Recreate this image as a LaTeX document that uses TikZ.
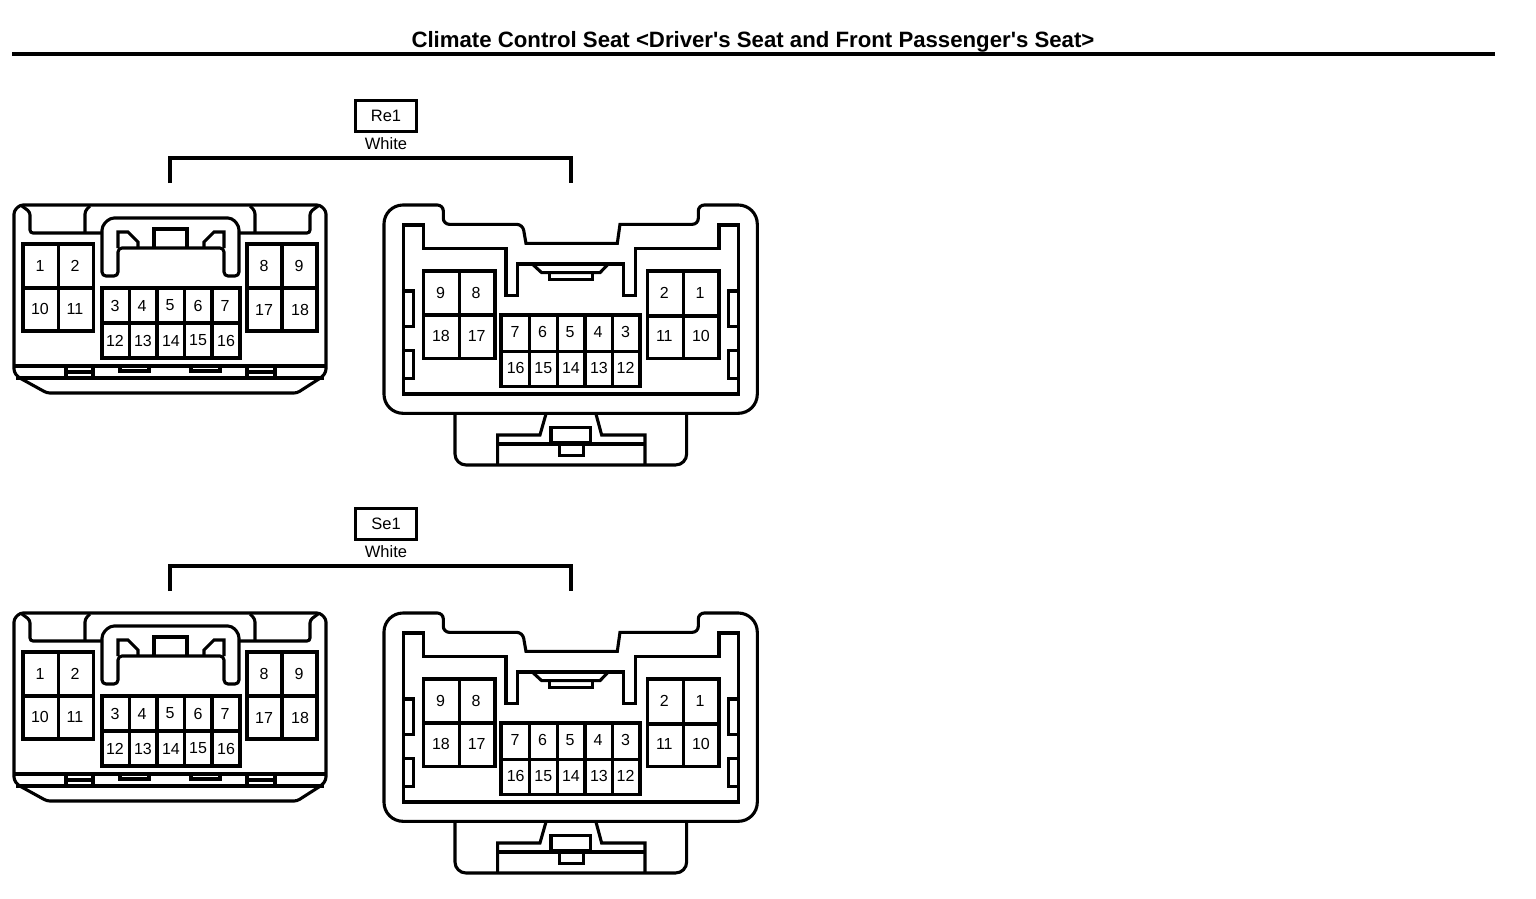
\documentclass[tikz,border=0pt]{standalone}
\usepackage{fontspec}
\newfontfamily\plainsans{Liberation Sans}
\tikzset{
  ln/.style={line width=3.1pt,line join=miter,line cap=butt},
  num/.style={font=\plainsans\fontsize{16}{17}\selectfont,inner sep=0pt,text=black},
  hdr/.style={font=\plainsans\fontsize{16.5}{17}\selectfont,inner sep=0pt},
}
\newcommand{\connectorpair}[3]{% prefix, tag, y offset
\begin{scope}[yshift=#3]
\node[draw,line width=3pt,minimum width=61pt,minimum height=31pt,inner sep=0pt,hdr] (#1tag) at (386,115.5) {#2};
\node[hdr] (#1col) at (386,143.5) {White};
\coordinate (#1bl) at (170,183);
\coordinate (#1br) at (571,183);
\draw[ln,line width=3.2pt] (#1bl) -- (170,158) -- (571,158) -- (#1br);
% LEFT CONNECTOR
\begin{scope}
\draw[ln,rounded corners=3pt] (20,205) -- (320,205) -- (326,211) -- (326,372) -- (322,377) -- (297,393) -- (47,393) -- (18,377) -- (14,372) -- (14,211) -- cycle;
\draw[ln] (14,366) -- (326,366);
\draw[ln] (16,378) -- (324,378);
\draw[ln,rounded corners=3pt] (22,206) -- (30,212) -- (30,233) -- (102,233);
\draw[ln,rounded corners=3pt] (85,233) -- (85,211) -- (90,206);
\draw[ln,rounded corners=3pt] (318,206) -- (310,212) -- (310,233) -- (239,233);
\draw[ln,rounded corners=3pt] (255,233) -- (255,211) -- (250,206);
\draw[ln,fill=white,rounded corners=4pt] (102,276) -- (102,226) -- (110,218) -- (232,218) -- (239,226) -- (239,276) -- (224,276) -- (224,248) -- (118,248) -- (118,276) -- cycle;
\draw[ln] (118,248) -- (118,232) -- (128,232) -- (138,242) -- (138,248);
\draw[ln] (224,248) -- (224,232) -- (214,232) -- (204,242) -- (204,248);
\draw[ln] (154,248) -- (154,229) -- (187,229) -- (187,248);
\draw[ln] (66,366) -- (66,378) (93,366) -- (93,378) (66,372) -- (93,372);
\draw[ln] (247,366) -- (247,378) (275,366) -- (275,378) (247,372) -- (275,372);
\draw[ln] (120,366) -- (120,371) -- (149,371) -- (149,366);
\draw[ln] (191,366) -- (191,371) -- (220,371) -- (220,366);
\draw[ln] (23,244) rectangle (93.5,331) (58.5,244) -- (58.5,331) (23,288) -- (93.5,288);
\draw[ln] (247,244) rectangle (317,331) (282,244) -- (282,331) (247,288) -- (317,288);
\draw[ln] (102,288) rectangle (240,358) (102,323) -- (240,323);
\foreach \xa in {129.5,157,184.5,212} \draw[ln] (\xa,288) -- (\xa,358);
\foreach \tx/\ty/\lab/\nm in {40/266/1/a,75/266/2/b,40/309/10/c,75/309/11/d,264/265.5/8/e,299/265.5/9/f,264/309.5/17/g,300/309.5/18/h,
115/305.5/3/i,142/305.5/4/j,170/305.5/5/k,198/305.5/6/l,225/305.5/7/m,115/340.5/12/n,143/340.5/13/o,171/340.5/14/p,198/340.5/15/q,226/340.5/16/r}
  \node[num] (#1L\nm) at (\tx,\ty) {\lab};
\end{scope}
% RIGHT CONNECTOR (coordinates in thirds of a pixel)
\begin{scope}[shift={(370,190)},x=0.3333pt,y=-0.3333pt]
\draw[ln] (600,670) [rounded corners=19pt] -- (42,670) -- (42,45) [rounded corners=6pt] -- (220,45) -- (220,103) -- (458,103) [sharp corners] -- (468,160) -- (742,160) -- (750,103) [rounded corners=6pt] -- (985,103) -- (985,45) [rounded corners=19pt] -- (1162,45) -- (1162,670) -- cycle;
\draw[ln] (100,105) -- (160,105) -- (160,175) -- (408,175) -- (408,317) -- (442,317) -- (442,222) -- (760,222) -- (760,317) -- (797,317) -- (797,175) -- (1047,175) -- (1047,105) -- (1105,105) -- (1105,612) -- (100,612) -- cycle;
\draw[ln] (490,225) -- (515,248) -- (690,248) -- (712,225);
\draw[ln] (538,248) rectangle (668,268);
\draw[ln] (100,303) -- (130,303) -- (130,410) -- (100,410);
\draw[ln] (100,482) -- (130,482) -- (130,565) -- (100,565);
\draw[ln] (1105,303) -- (1075,303) -- (1075,410) -- (1105,410);
\draw[ln] (1105,482) -- (1075,482) -- (1075,565) -- (1105,565);
\draw[ln] (160,243) rectangle (375,505) (268,243) -- (268,505) (160,375) -- (375,375);
\draw[ln] (833,243) rectangle (1047,505) (940,243) -- (940,505) (833,378) -- (1047,378);
\draw[ln] (393,375) rectangle (810,590) (393,485) -- (810,485);
\foreach \xa in {478,562,645,728} \draw[ln] (\xa,375) -- (\xa,590);
\draw[ln,rounded corners=11pt] (255,672) -- (255,825) -- (950,825) -- (950,672);
\draw[ln] (528,672) -- (510,735) -- (383,735) -- (383,825);
\draw[ln] (383,762) -- (825,762);
\draw[ln] (825,825) -- (825,735) -- (695,735) -- (678,672);
\draw[ln,fill=white] (543,712) rectangle (662,757);
\draw[ln,fill=white] (568,762) rectangle (640,797);
\foreach \tx/\ty/\lab/\nm in {212/310/9/a,318/310/8/b,213/437/18/c,320/437/17/d,883/310/2/e,990/310/1/f,883/437/11/g,993/437/10/h,
435/425/7/i,518/425/6/j,600/425/5/k,684/425/4/l,767/425/3/m,437/533/16/n,520/533/15/o,603/533/14/p,687/533/13/q,767/533/12/r}
  \node[num] (#1R\nm) at (\tx,\ty) {\lab};
\end{scope}
\end{scope}
}
\begin{document}
\begin{tikzpicture}[x=1pt,y=-1pt]
\useasboundingbox (0,0) rectangle (1536,898);
\node[inner sep=0pt,font=\plainsans\bfseries\fontsize{22.2}{24}\selectfont] (title) at (753,41.5) {Climate Control Seat <Driver's Seat and Front Passenger's Seat>};
\coordinate (rl) at (12,54); \coordinate (rr) at (1495,54);
\draw[line width=4.5pt] (rl) -- (rr);
\connectorpair{A}{Re1}{0pt}
\connectorpair{B}{Se1}{-408pt}
\end{tikzpicture}
\end{document}
